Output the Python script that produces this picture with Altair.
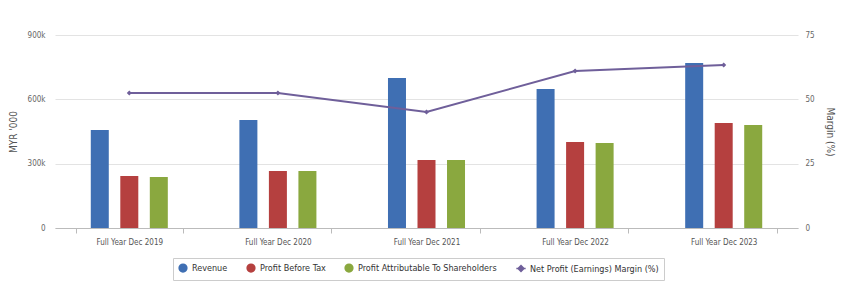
import altair as alt
import pandas as pd

years = ["Full Year Dec 2019", "Full Year Dec 2020", "Full Year Dec 2021",
         "Full Year Dec 2022", "Full Year Dec 2023"]
revenue = [457000, 504000, 699000, 648000, 769000]
profit_before_tax = [242000, 266000, 317000, 401000, 490000]
profit_attrib = [238000, 266000, 317000, 396000, 480000]
margin = [52.5, 52.5, 45.1, 61.0, 63.3]

bar_series = ["Revenue", "Profit Before Tax", "Profit Attributable To Shareholders"]
line_series = "Net Profit (Earnings) Margin (%)"
all_series = bar_series + [line_series]
colors = ["#3f6fb3", "#b5403f", "#8aa83f", "#6f5f9a"]
shapes = ["circle", "circle", "circle",
          "M-1.2,0H1.2M0,-0.75L0.75,0L0,0.75L-0.75,0Z"]

rows = []
for i, y in enumerate(years):
    for s, vals in zip(bar_series, [revenue, profit_before_tax, profit_attrib]):
        rows.append({"year": y, "series": s, "value": vals[i]})
bars_df = pd.DataFrame(rows)
line_df = pd.DataFrame({"year": years, "series": [line_series] * 5, "margin": margin})

FONT = "Liberation Sans Narrow, DejaVu Sans Condensed, Liberation Sans, sans-serif"

color_scale = alt.Scale(domain=all_series, range=colors)
shape_scale = alt.Scale(domain=all_series, range=shapes)
legend = alt.Legend(title=None, orient="none", legendX=118, legendY=223,
                    direction="horizontal",
                    strokeColor="#cccccc", padding=5, labelFont=FONT, labelFontSize=9,
                    labelColor="#333333", symbolSize=60, columnPadding=16,
                    symbolStrokeWidth=1.5)

x_scale = alt.Scale(paddingInner=0.283, paddingOuter=0.1415)
x_enc = alt.X("year:N", sort=years, title=None, scale=x_scale,
              axis=alt.Axis(labelAngle=0, labelFont=FONT, labelFontSize=8,
                            labelColor="#555555", domainColor="#bbbbbb",
                            tickColor="#bbbbbb", tickBand="extent", tickSize=5,
                            labelPadding=5, grid=False))

bars = alt.Chart(bars_df).mark_bar().encode(
    x=x_enc,
    xOffset=alt.XOffset("series:N", sort=bar_series,
                        scale=alt.Scale(paddingInner=0.39, paddingOuter=0.5)),
    y=alt.Y("value:Q", title="MYR '000",
            scale=alt.Scale(domain=[0, 900000], nice=False),
            axis=alt.Axis(values=[0, 300000, 600000, 900000],
                          labelExpr="datum.value == 0 ? '0' : format(datum.value/1000, 'd') + 'k'",
                          labelFont=FONT, labelFontSize=8, labelColor="#666666",
                          titleFont=FONT, titleFontSize=10, titleColor="#555555",
                          titleFontWeight="normal", titlePadding=9,
                          domain=False, ticks=False, labelPadding=10,
                          gridColor="#e3e3e3")),
    color=alt.Color("series:N", scale=color_scale, legend=legend),
)

line = alt.Chart(line_df).mark_line(
    point=alt.OverlayMarkDef(size=45, filled=True), strokeWidth=2
).encode(
    x=alt.X("year:N", sort=years, scale=x_scale),
    y=alt.Y("margin:Q", title="Margin (%)",
            scale=alt.Scale(domain=[0, 75], nice=False),
            axis=alt.Axis(orient="right", values=[0, 25, 50, 75],
                          labelFont=FONT, labelFontSize=8, labelColor="#666666",
                          titleFont=FONT, titleFontSize=10, titleColor="#555555",
                          titleFontWeight="normal", titlePadding=10,
                          domain=False, ticks=False, labelPadding=7, grid=False)),
    color=alt.Color("series:N", scale=color_scale, legend=legend),
    shape=alt.Shape("series:N", scale=shape_scale, legend=legend),
)

chart = alt.layer(bars, line).resolve_scale(y="independent").properties(
    width=743, height=193,
    autosize=alt.AutoSizeParams(type="none"),
    padding={"left": 47, "top": 27, "right": 42, "bottom": 55},
).configure_view(stroke=None)

chart.save("out.html", embed_options={"renderer": "svg", "actions": False})
